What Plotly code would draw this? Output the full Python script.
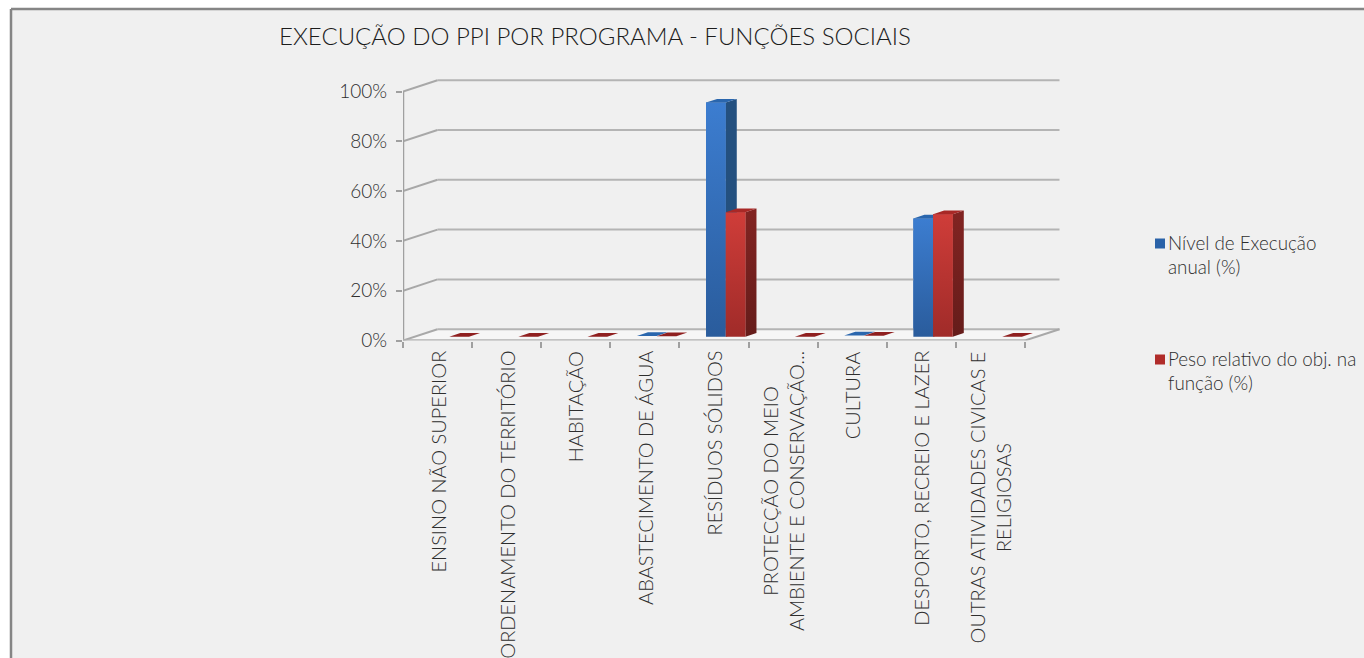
import plotly.graph_objects as go

categories = ["ENSINO NÃO SUPERIOR", "ORDENAMENTO DO TERRITÓRIO", "HABITAÇÃO",
              "ABASTECIMENTO DE ÁGUA", "RESÍDUOS SÓLIDOS",
              "PROTECÇÃO DO MEIO<br>AMBIENTE E CONSERVAÇÃO...", "CULTURA",
              "DESPORTO, RECREIO E LAZER", "OUTRAS ATIVIDADES CIVICAS E<br>RELIGIOSAS"]
nivel = [None, None, None, 0.3, 94, None, 0.5, 47.5, None]
peso = [0, 0, 0, 0.2, 50, 0, 0.4, 49.2, 0]
y_ticks = [0, 20, 40, 60, 80, 100]

W, H = 1364, 658
FONT = "Lato Light, Lato, sans-serif"
TXT = "#2e2e2e"
PX_CAT = 69.11
PX_PCT = 2.49
X0, X1 = 403, 1062
Y0, YT = 340.5, 78
DX = 34.5 / PX_CAT        # depth of the floor in x units
DY = 11.3 / PX_PCT        # depth of the floor in y units
BAR_W = 19.7 / PX_CAT
D0, D1 = 0.34, 0.66       # bars' front and back planes, as a fraction of depth


def proj(x, y, d):
    return x + d * DX, y + d * DY


fig = go.Figure()


def poly(xs, ys, color=None, grad=None):
    kw = dict(fillcolor=color) if grad is None else dict(
        fillgradient=dict(type="vertical", colorscale=[[0, grad[0]], [1, grad[1]]]))
    fig.add_trace(go.Scatter(x=xs + xs[:1], y=ys + ys[:1], mode="lines", fill="toself",
                             line=dict(width=0), hoverinfo="skip", showlegend=False, **kw))


def lines(segments, color, width):
    xs, ys = [], []
    for (a, b) in segments:
        xs += [a[0], b[0], None]
        ys += [a[1], b[1], None]
    fig.add_trace(go.Scatter(x=xs, y=ys, mode="lines", line=dict(color=color, width=width),
                             hoverinfo="skip", showlegend=False))


n = len(categories)
xl, xr = -0.5, n - 0.5

# flat bars (front faces); a gradient polygon is laid over them below
for name, vals, off, col in (("Nível de Execução anual (%)", nivel, -1, "#3069b4"),
                             ("Peso relativo do obj. na função (%)", peso, 0, "#b8322f")):
    fig.add_trace(go.Bar(x=[proj(i + off * BAR_W + BAR_W / 2, 0, D0)[0] for i in range(n)],
                         y=vals, base=D0 * DY, width=BAR_W, name=name,
                         marker=dict(color=col, line=dict(width=0)), showlegend=False))

# floor
fl = [proj(xl, 0, 0), proj(xr, 0, 0), proj(xr, 0, 1), proj(xl, 0, 1)]
poly([p[0] for p in fl], [p[1] for p in fl], color="#f6f6f6")

# back wall grid and left wall diagonals
lines([(proj(xl, v, 1), proj(xr, v, 1)) for v in y_ticks], "#b4b4b4", 2)
lines([(proj(xl, v, 0), proj(xl, v, 1)) for v in y_ticks], "#a8a8a8", 2)
lines([(proj(xr, 0, 0), proj(xr, 0, 1))], "#a8a8a8", 2)
# front axes
lines([((xl, 0), (xl, 100))], "#a0a0a0", 2.5)
lines([((xl, 0), (xr, 0))], "#b0b0b0", 2.5)

# 3D faces of the bars
styles = (
    (nivel, -1, ("#2a5c9c", "#3c7dd0"), ("#23507f", "#24507f"), "#2a66ad"),
    (peso, 0, ("#a02b29", "#cf3d39"), ("#651c1a", "#822422"), "#a82826"),
)
for vals, off, front, side, top in styles:
    for i, v in enumerate(vals):
        if v is None:
            continue
        xa = i + off * BAR_W
        xb = xa + BAR_W
        if v > 1:
            p = [proj(xb, 0, D0), proj(xb, 0, D1), proj(xb, v, D1), proj(xb, v, D0)]
            poly([q[0] for q in p], [q[1] for q in p], grad=side)
            p = [proj(xa, 0, D0), proj(xb, 0, D0), proj(xb, v, D0), proj(xa, v, D0)]
            poly([q[0] for q in p], [q[1] for q in p], grad=front)
        p = [proj(xa, v, D0), proj(xb, v, D0), proj(xb, v, D1), proj(xa, v, D1)]
        poly([q[0] for q in p], [q[1] for q in p], color=top if v > 1 else ("#2a66ad" if off else "#8f1f1f"))

annotations = []
for i, c in enumerate(categories):
    annotations.append(dict(x=i, xref="x", y=1 - 349 / H, yref="paper", text=c, textangle=-90,
                            xanchor="center", yanchor="top", showarrow=False, align="center",
                            font=dict(family=FONT, size=20, color=TXT)))
legend_items = [("Nível de Execução<br>anual (%)", 254.5, "#2a62a8"),
                ("Peso relativo do obj. na<br>função (%)", 370.5, "#b02c2a")]
shapes = [
    dict(type="rect", xref="paper", yref="paper", x0=11 / W, x1=1, y0=0, y1=1 - 9 / H,
         fillcolor="#f0f0f0", line=dict(width=0), layer="below"),
    dict(type="line", xref="paper", yref="paper", x0=11 / W, x1=1, y0=1 - 9 / H, y1=1 - 9 / H,
         line=dict(color="#858585", width=2.5), layer="below"),
    dict(type="line", xref="paper", yref="paper", x0=11 / W, x1=11 / W, y0=0, y1=1 - 9 / H,
         line=dict(color="#858585", width=2.5), layer="below"),
]
for text, yc, col in legend_items:
    annotations.append(dict(x=1166 / W, xref="paper", y=1 - yc / H, yref="paper", text=text,
                            xanchor="left", yanchor="middle", showarrow=False, align="left",
                            font=dict(family=FONT, size=18.8, color=TXT)))
    shapes.append(dict(type="rect", xref="paper", yref="paper", x0=1155 / W, x1=1165 / W,
                       y0=1 - (yc - 11 + 5) / H, y1=1 - (yc - 11 - 5) / H,
                       fillcolor=col, line=dict(width=0)))

fig.update_layout(
    width=W, height=H, margin=dict(l=0, r=0, t=0, b=0, autoexpand=False),
    paper_bgcolor="white", plot_bgcolor="rgba(0,0,0,0)",
    barmode="overlay", showlegend=False,
    title=dict(text="EXECUÇÃO DO PPI POR PROGRAMA - FUNÇÕES SOCIAIS", x=279 / W, xanchor="left",
               xref="container", y=1 - 37 / H, yanchor="middle", yref="container",
               font=dict(family=FONT, size=24, color="#1c1c1c")),
    xaxis=dict(domain=[X0 / W, X1 / W], range=[xl, xl + (X1 - X0) / PX_CAT], showgrid=False, zeroline=False,
               tickmode="array", tickvals=[i - 0.5 for i in range(n + 1)], ticktext=[""] * (n + 1),
               ticks="outside", ticklen=6, tickwidth=2, tickcolor="#a0a0a0", showline=False),
    yaxis=dict(domain=[1 - Y0 / H, 1 - YT / H], range=[0, (Y0 - YT) / PX_PCT], showgrid=False,
               zeroline=False, tickmode="array", tickvals=y_ticks, ticktext=[f"{v}%" for v in y_ticks],
               ticks="outside", ticklen=6, tickwidth=2, tickcolor="#a0a0a0", showline=False,
               ticklabelstandoff=5, tickfont=dict(family=FONT, size=19, color=TXT)),
    annotations=annotations, shapes=shapes,
)
fig.write_html("out.html", config=dict(displayModeBar=False),
               post_script="document.body.style.margin='0';document.body.style.overflow='hidden';")
